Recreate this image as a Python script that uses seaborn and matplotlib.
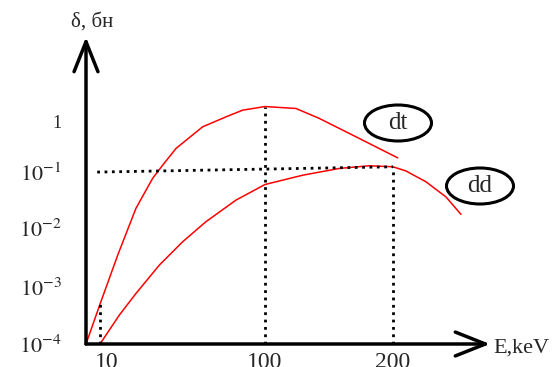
import numpy as np
import pandas as pd
import matplotlib
matplotlib.use('Agg')
import matplotlib.pyplot as plt
import matplotlib.transforms as mtransforms
import seaborn as sns
from matplotlib.patches import Ellipse

# data (energy in keV, cross-section in barn)
dt_energy = [0, 10, 19.7, 29.6, 38.7, 44.2, 51.5, 66.0, 78.7, 87.8, 100, 124.2, 142.4, 168.5, 203.7]
dt_sigma = [1e-4, 5e-4, 3.5e-3, 0.0225, 0.0772, 0.137, 0.292, 0.773, 1.21, 1.64, 1.93, 1.77, 1.13, 0.531, 0.19]

dd_energy = [10, 20.5, 29.6, 42.4, 55.1, 67.8, 84.2, 100, 129.5, 158.1, 181.5, 200, 210.2, 225.8, 241.4, 253.1]
dd_sigma = [1e-4, 3.2e-4, 7.7e-4, 2.36e-3, 5.86e-3, 0.013, 0.0316, 0.060, 0.088, 0.118, 0.133, 0.127, 0.105, 0.067, 0.036, 0.0176]

x_ticks = [10, 100, 200]
x_tick_labels = ['10', '100', '200']
y_ticks = [1e-4, 1e-3, 1e-2, 1e-1, 1]
y_tick_labels = ['$10^{-4}$', '$10^{-3}$', '$10^{-2}$', '$10^{-1}$', '1']

# hand-drawn axes are not evenly spaced, so use piecewise scales
E_KNOTS = [0, 10, 100, 200, 300]
X_POS = [0, 14, 179, 307, 435]
LOG_KNOTS = [-4, -3, -2, -1, 0, 2]
Y_POS = [0, 57, 116, 172, 223, 325]


def x_fwd(e):
    return np.interp(e, E_KNOTS, X_POS)


def x_inv(p):
    return np.interp(p, X_POS, E_KNOTS)


def y_fwd(v):
    return np.interp(np.log10(np.clip(v, 1e-12, None)), LOG_KNOTS, Y_POS)


def y_inv(p):
    return 10 ** np.interp(p, Y_POS, LOG_KNOTS)


sns.set_style('white')
plt.rcParams['font.family'] = ['Liberation Serif', 'DejaVu Serif']
plt.rcParams['mathtext.fontset'] = 'stix'

dt = pd.DataFrame({'E': dt_energy, 'sigma': dt_sigma})
dd = pd.DataFrame({'E': dd_energy, 'sigma': dd_sigma})

fig = plt.figure(figsize=(5.6, 3.67), dpi=100)
ax = fig.add_axes([86 / 560, 23 / 367, 404 / 560, 307 / 367])

sns.lineplot(data=dt, x='E', y='sigma', color='red', lw=1.1, estimator=None, ax=ax)
sns.lineplot(data=dd, x='E', y='sigma', color='red', lw=1.1, estimator=None, ax=ax)

ax.set_xscale('function', functions=(x_fwd, x_inv))
ax.set_yscale('function', functions=(y_fwd, y_inv))
ax.set_xlim(0, 275.8)
ax.set_ylim(1e-4, 10 ** 1.65)

# dotted guide lines
dot = dict(color='black', ls=':', lw=2)
ax.plot([dt_energy[1], dt_energy[1]], [1e-4, dt_sigma[1]], **dot)
ax.plot([100, 100], [1e-4, max(dt_sigma)], **dot)
ax.plot([200, 200], [1e-4, dd_sigma[11]], **dot)
ax.plot([8, 200], [0.1, dd_sigma[11]], **dot)

for s in ax.spines.values():
    s.set_visible(False)
ax.grid(False)

ax.set_xticks(x_ticks, labels=x_tick_labels)
ax.set_yticks(y_ticks, labels=y_tick_labels)
ax.minorticks_off()
ax.tick_params(axis='x', length=0, pad=6, labelsize=17)
ax.tick_params(axis='y', direction='inout', length=11, width=2, pad=12, labelsize=16)
ax.get_yticklabels()[-1].set_fontsize(13)
lbl10 = ax.get_xticklabels()[0]
lbl10.set_transform(lbl10.get_transform() + mtransforms.ScaledTranslation(0.07, 0, fig.dpi_scale_trans))
ax.set_xlabel('')
ax.set_ylabel('')

arrow = dict(arrowstyle='->,head_length=2.16,head_width=0.86', lw=2.5,
             color='black', shrinkA=0, shrinkB=0, mutation_scale=10)
ax.annotate('', xy=(1, 0), xytext=(0, 0), xycoords='axes fraction', arrowprops=arrow,
            annotation_clip=False)
ax.annotate('', xy=(0, 1), xytext=(0, 0), xycoords='axes fraction', arrowprops=arrow,
            annotation_clip=False)

fig.text(493 / 560, 1 - 348 / 367, 'E,keV', fontsize=16, va='center', ha='left')
fig.text(92 / 560, 1 - 22 / 367, 'δ, бн', fontsize=15, va='center', ha='center')

for label, cx, cy in [('dt', 398, 123), ('dd', 480, 186)]:
    e = Ellipse(((cx - 86) / 404, (344 - cy) / 307), 67 / 404, 36 / 307,
                transform=ax.transAxes, fill=False, lw=2.2, ec='black', clip_on=False)
    ax.add_patch(e)
    ax.text((cx - 86) / 404, (344 - cy) / 307, label, transform=ax.transAxes,
            fontsize=18, ha='center', va='center')

fig.savefig('out.png', dpi=100)
